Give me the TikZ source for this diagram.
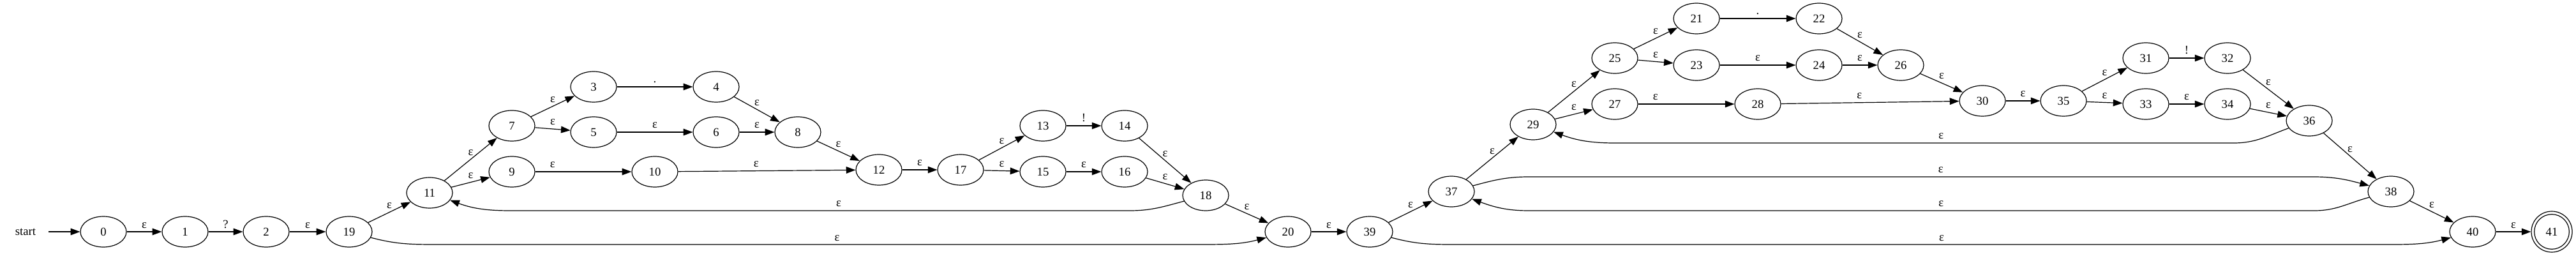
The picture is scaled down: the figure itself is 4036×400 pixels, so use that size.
\documentclass[tikz,border=0pt]{standalone}
\usepackage{fontspec}
\setmainfont{Liberation Serif}
\usetikzlibrary{arrows.meta,shapes.geometric}
\begin{document}
\begin{tikzpicture}[x=0.75pt,y=0.75pt,
  stt/.style={ellipse,draw,line width=0.9pt,minimum width=54pt,minimum height=36pt,inner sep=0pt,font=\fontsize{14}{16}\selectfont},
  acc/.style={circle,draw,line width=0.9pt,minimum size=48pt,inner sep=0pt,font=\fontsize{14}{16}\selectfont},
  edge/.style={-{Triangle[length=11pt,width=8pt]},line width=0.9pt},
  lbl/.style={anchor=base,yshift=4.5pt,inner sep=0pt,font=\fontsize{14}{16}\selectfont}]
\useasboundingbox (0,0) rectangle (4036,400);
% nodes
\node[minimum width=54pt,inner sep=0pt,font=\fontsize{14}{16}\selectfont] (start) at (40,37) {start};
\node[stt] (n0) at (162,37) {0};
\node[stt] (n1) at (290,37) {1};
\node[stt] (n2) at (417,37) {2};
\node[stt] (n19) at (547,37) {19};
\node[stt] (n11) at (673,98) {11};
\node[stt] (n7) at (802,203) {7};
\node[stt] (n9) at (802,131) {9};
\node[stt] (n3) at (930,264) {3};
\node[stt] (n5) at (930,193) {5};
\node[stt] (n10) at (1026,131) {10};
\node[stt] (n4) at (1122,264) {4};
\node[stt] (n6) at (1122,193) {6};
\node[stt] (n8) at (1250,193) {8};
\node[stt] (n12) at (1377,134) {12};
\node[stt] (n17) at (1505,134) {17};
\node[stt] (n13) at (1634,203) {13};
\node[stt] (n15) at (1634,131) {15};
\node[stt] (n14) at (1762,203) {14};
\node[stt] (n16) at (1762,131) {16};
\node[stt] (n18) at (1889,94) {18};
\node[stt] (n20) at (2018,37) {20};
\node[stt] (n39) at (2146,37) {39};
\node[stt] (n37) at (2274,100) {37};
\node[stt] (n29) at (2402,205) {29};
\node[stt] (n25) at (2530,309) {25};
\node[stt] (n27) at (2530,237) {27};
\node[stt] (n21) at (2658,371) {21};
\node[stt] (n23) at (2658,298) {23};
\node[stt] (n28) at (2754,237) {28};
\node[stt] (n22) at (2850,371) {22};
\node[stt] (n24) at (2850,298) {24};
\node[stt] (n26) at (2978,298) {26};
\node[stt] (n30) at (3106,242) {30};
\node[stt] (n35) at (3233,242) {35};
\node[stt] (n31) at (3362,309) {31};
\node[stt] (n33) at (3362,237) {33};
\node[stt] (n32) at (3490,309) {32};
\node[stt] (n34) at (3490,237) {34};
\node[stt] (n36) at (3618,211) {36};
\node[stt] (n38) at (3746,100) {38};
\node[stt] (n40) at (3874,37) {40};
\node[acc] (n41) at (3998,37) {41};
\draw[line width=0.9pt] (n41.center) circle (20.5pt);
% bend points
\coordinate (a1) at (690,17);  \coordinate (a2) at (1885,17);
\coordinate (b1) at (1770,70); \coordinate (b2) at (800,70);
\coordinate (c1) at (3500,176); \coordinate (c2) at (2530,176);
\coordinate (d1) at (2395,123); \coordinate (d2) at (3625,123);
\coordinate (e1) at (3626,70); \coordinate (e2) at (2395,70);
\coordinate (f1) at (2275,17); \coordinate (f2) at (3750,17);
% edges
\draw[edge] (start) -- (n0);
\draw[edge] (n0) -- node[lbl]{ε} (n1);
\draw[edge] (n1) -- node[lbl]{?} (n2);
\draw[edge] (n2) -- node[lbl]{ε} (n19);
\draw[edge] (n19) -- node[lbl]{ε} (n11);
\draw[edge] (n19) to[out=-15,in=180] (a1) -- node[lbl,pos=0.52]{ε} (a2) to[out=0,in=195] (n20);
\draw[edge] (n11) -- node[lbl]{ε} (n7);
\draw[edge] (n11) -- node[lbl]{ε} (n9);
\draw[edge] (n7) -- node[lbl]{ε} (n3);
\draw[edge] (n7) -- node[lbl]{ε} (n5);
\draw[edge] (n3) -- node[lbl]{.} (n4);
\draw[edge] (n5) -- node[lbl]{ε} (n6);
\draw[edge] (n4) -- node[lbl]{ε} (n8);
\draw[edge] (n6) -- node[lbl]{ε} (n8);
\draw[edge] (n9) -- node[lbl,pos=0.18]{ε} (n10);
\draw[edge] (n10) -- node[lbl,pos=0.44]{ε} (n12);
\draw[edge] (n8) -- node[lbl]{ε} (n12);
\draw[edge] (n12) -- node[lbl]{ε} (n17);
\draw[edge] (n17) -- node[lbl]{ε} (n13);
\draw[edge] (n17) -- node[lbl]{ε} (n15);
\draw[edge] (n13) -- node[lbl]{!} (n14);
\draw[edge] (n15) -- node[lbl]{ε} (n16);
\draw[edge] (n14) -- node[lbl]{ε} (n18);
\draw[edge] (n16) -- node[lbl]{ε} (n18);
\draw[edge] (n18) to[out=195,in=0] (b1) -- node[lbl,pos=0.47]{ε} (b2) to[out=180,in=-20] (n11);
\draw[edge] (n18) -- node[lbl]{ε} (n20);
\draw[edge] (n20) -- node[lbl]{ε} (n39);
\draw[edge] (n39) -- node[lbl]{ε} (n37);
\draw[edge] (n39) to[out=-15,in=180] (f1) -- node[lbl,pos=0.52]{ε} (f2) to[out=0,in=195] (n40);
\draw[edge] (n37) -- node[lbl]{ε} (n29);
\draw[edge] (n37) to[out=15,in=180] (d1) -- node[lbl,pos=0.525]{ε} (d2) to[out=0,in=165] (n38);
\draw[edge] (n38) to[out=195,in=0] (e1) -- node[lbl,pos=0.475]{ε} (e2) to[out=180,in=-20] (n37);
\draw[edge] (n29) -- node[lbl]{ε} (n25);
\draw[edge] (n29) -- node[lbl]{ε} (n27);
\draw[edge] (n25) -- node[lbl]{ε} (n21);
\draw[edge] (n25) -- node[lbl]{ε} (n23);
\draw[edge] (n21) -- node[lbl]{.} (n22);
\draw[edge] (n23) -- node[lbl]{ε} (n24);
\draw[edge] (n22) -- node[lbl]{ε} (n26);
\draw[edge] (n24) -- node[lbl]{ε} (n26);
\draw[edge] (n27) -- node[lbl,pos=0.18]{ε} (n28);
\draw[edge] (n26) -- node[lbl]{ε} (n30);
\draw[edge] (n28) -- node[lbl,pos=0.44]{ε} (n30);
\draw[edge] (n30) -- node[lbl]{ε} (n35);
\draw[edge] (n35) -- node[lbl]{ε} (n31);
\draw[edge] (n35) -- node[lbl]{ε} (n33);
\draw[edge] (n31) -- node[lbl]{!} (n32);
\draw[edge] (n33) -- node[lbl]{ε} (n34);
\draw[edge] (n32) -- node[lbl]{ε} (n36);
\draw[edge] (n34) -- node[lbl]{ε} (n36);
\draw[edge] (n36) to[out=200,in=0] (c1) -- node[lbl,pos=0.473]{ε} (c2) to[out=180,in=-20] (n29);
\draw[edge] (n36) -- node[lbl]{ε} (n38);
\draw[edge] (n38) -- node[lbl]{ε} (n40);
\draw[edge] (n40) -- node[lbl]{ε} (n41);
\end{tikzpicture}
\end{document}
